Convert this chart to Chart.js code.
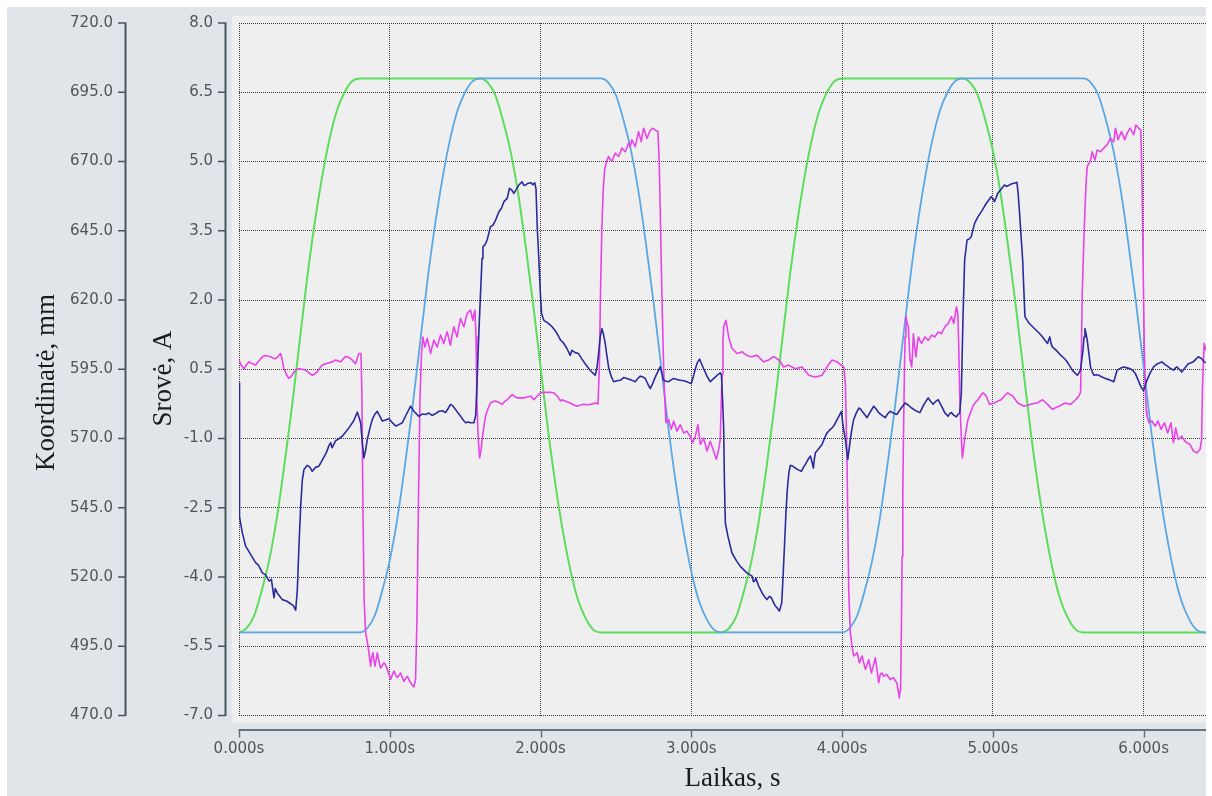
<!DOCTYPE html>
<html>
<head>
<meta charset="utf-8">
<script src="https://cdn.jsdelivr.net/npm/chart.js@4.4.1/dist/chart.umd.min.js"></script>
<style>
  html, body { margin: 0; padding: 0; background: #ffffff; overflow: hidden; }
  canvas { display: block; }
</style>
</head>
<body>
<canvas id="chart" width="1212" height="796"></canvas>
<script>
// Axis tick values
const timeTicks = [0, 1, 2, 3, 4, 5, 6];
const currentTicks = [-7, -5.5, -4, -2.5, -1, 0.5, 2, 3.5, 5, 6.5, 8];
const positionTicks = [470, 495, 520, 545, 570, 595, 620, 645, 670, 695, 720];

// Position samples (s) shared by both carriage coordinates
const posT = [
  0, 0.05, 0.1, 0.15, 0.2, 0.25, 0.3, 0.35, 0.4, 0.45, 0.5, 0.55, 0.6, 0.65, 0.7, 0.75, 0.8,
  0.85, 0.9, 0.95, 1, 1.05, 1.1, 1.15, 1.2, 1.25, 1.3, 1.35, 1.4, 1.45, 1.5, 1.55,
  1.6, 1.65, 1.7, 1.75, 1.8, 1.85, 1.9, 1.95, 2, 2.05, 2.1, 2.15, 2.2, 2.25, 2.3, 2.35, 2.4,
  2.45, 2.5, 2.55, 2.6, 2.65, 2.7, 2.75, 2.8, 2.85, 2.9, 2.95, 3, 3.05, 3.1, 3.15,
  3.2, 3.25, 3.3, 3.35, 3.4, 3.45, 3.5, 3.55, 3.6, 3.65, 3.7, 3.75, 3.8, 3.85, 3.9, 3.95, 4,
  4.05, 4.1, 4.15, 4.2, 4.25, 4.3, 4.35, 4.4, 4.45, 4.5, 4.55, 4.6, 4.65, 4.7, 4.75,
  4.8, 4.85, 4.9, 4.95, 5, 5.05, 5.1, 5.15, 5.2, 5.25, 5.3, 5.35, 5.4, 5.45, 5.5, 5.55, 5.6,
  5.65, 5.7, 5.75, 5.8, 5.85, 5.9, 5.95, 6, 6.05, 6.1, 6.15, 6.2, 6.25, 6.3, 6.35, 6.4,
  6.414
];

// Coordinate of the first axis, mm
const greenMM = [
  500, 501.5, 506, 515, 526, 541, 560, 581, 604, 627, 647, 664, 678, 688.5, 695, 699, 700,
  700, 700, 700, 700, 700, 700, 700, 700, 700, 700, 700, 700, 700, 700, 700,
  700, 698.5, 694, 685, 674, 659, 640, 619, 596, 573, 553, 536, 522, 511.5, 505, 501, 500,
  500, 500, 500, 500, 500, 500, 500, 500, 500, 500, 500, 500, 500, 500, 500,
  500, 501.5, 506, 515, 526, 541, 560, 581, 604, 627, 647, 664, 678, 688.5, 695, 699, 700,
  700, 700, 700, 700, 700, 700, 700, 700, 700, 700, 700, 700, 700, 700, 700,
  700, 698.5, 694, 685, 674, 659, 640, 619, 596, 573, 553, 536, 522, 511.5, 505, 501, 500,
  500, 500, 500, 500, 500, 500, 500, 500, 500, 500, 500, 500, 500, 500, 500, 500,
  500
];

// Coordinate of the second axis, mm
const blueMM = [
  500, 500, 500, 500, 500, 500, 500, 500, 500, 500, 500, 500, 500, 500, 500, 500,
  500, 501.5, 506, 515, 526, 541, 560, 581, 604, 627, 647, 664, 678, 688.5, 695, 699, 700,
  700, 700, 700, 700, 700, 700, 700, 700, 700, 700, 700, 700, 700, 700, 700,
  700, 698.5, 694, 685, 674, 659, 640, 619, 596, 573, 553, 536, 522, 511.5, 505, 501, 500,
  500, 500, 500, 500, 500, 500, 500, 500, 500, 500, 500, 500, 500, 500, 500,
  500, 501.5, 506, 515, 526, 541, 560, 581, 604, 627, 647, 664, 678, 688.5, 695, 699, 700,
  700, 700, 700, 700, 700, 700, 700, 700, 700, 700, 700, 700, 700, 700, 700,
  700, 698.5, 694, 685, 674, 659, 640, 619, 596, 573, 553, 536, 522, 511.5, 505, 501, 500,
  500
];

// Motor current of the first drive, [s, A]
const navyCurrent = [
  [0,0.2],[0.002,-1.5],[0.005,-2.7],[0.022,-3.04],[0.044,-3.33],[0.075,-3.5],[0.11,-3.69],[0.13,-3.75],
  [0.155,-3.91],[0.175,-3.95],[0.2,-4.09],[0.215,-4.05],[0.232,-4.45],[0.24,-4.25],[0.255,-4.35],[0.287,-4.49],
  [0.315,-4.52],[0.343,-4.58],[0.36,-4.62],[0.376,-4.72],[0.387,-4.27],[0.398,-3.3],[0.409,-2.47],[0.42,-1.9],
  [0.431,-1.67],[0.453,-1.58],[0.47,-1.62],[0.486,-1.71],[0.51,-1.62],[0.53,-1.6],[0.555,-1.45],[0.58,-1.3],
  [0.596,-1.16],[0.608,-1.09],[0.618,-1.2],[0.64,-1.05],[0.665,-1.0],[0.685,-0.95],[0.71,-0.85],[0.729,-0.77],
  [0.76,-0.62],[0.785,-0.43],[0.797,-0.55],[0.807,-0.66],[0.818,-1.1],[0.829,-1.42],[0.84,-1.25],[0.851,-1.02],
  [0.868,-0.78],[0.884,-0.59],[0.9,-0.48],[0.917,-0.41],[0.935,-0.52],[0.95,-0.62],[0.972,-0.6],[0.994,-0.57],
  [1.015,-0.65],[1.039,-0.73],[1.06,-0.7],[1.083,-0.66],[1.11,-0.48],[1.138,-0.3],[1.16,-0.41],[1.193,-0.52],
  [1.215,-0.47],[1.238,-0.48],[1.26,-0.45],[1.28,-0.5],[1.305,-0.46],[1.326,-0.41],[1.35,-0.4],[1.37,-0.44],
  [1.387,-0.35],[1.403,-0.26],[1.42,-0.3],[1.436,-0.37],[1.453,-0.45],[1.47,-0.52],[1.487,-0.6],[1.503,-0.66],
  [1.52,-0.64],[1.536,-0.66],[1.558,-0.66],[1.57,-0.5],[1.58,0.3],[1.591,1.3],[1.602,2.14],[1.612,2.9],
  [1.618,3.15],[1.632,3.2],[1.646,3.3],[1.668,3.59],[1.685,3.62],[1.702,3.73],[1.724,3.91],[1.74,3.98],
  [1.757,4.13],[1.779,4.2],[1.794,4.42],[1.81,4.38],[1.823,4.31],[1.84,4.4],[1.856,4.49],[1.878,4.56],
  [1.89,4.48],[1.9,4.49],[1.918,4.53],[1.934,4.54],[1.95,4.5],[1.962,4.54],[1.97,4.4],[1.978,3.59],
  [1.989,2.86],[1.998,2.2],[2.007,1.71],[2.022,1.56],[2.05,1.5],[2.077,1.42],[2.105,1.3],[2.133,1.13],
  [2.15,1.08],[2.175,0.95],[2.197,0.8],[2.208,0.91],[2.23,0.86],[2.252,0.84],[2.275,0.72],[2.296,0.62],
  [2.312,0.55],[2.329,0.48],[2.346,0.42],[2.363,0.37],[2.375,0.55],[2.385,0.84],[2.396,1.2],[2.407,1.38],
  [2.418,1.25],[2.429,1.06],[2.44,0.8],[2.451,0.55],[2.468,0.35],[2.485,0.23],[2.507,0.25],[2.529,0.26],
  [2.551,0.32],[2.573,0.3],[2.6,0.27],[2.628,0.23],[2.645,0.3],[2.662,0.35],[2.68,0.33],[2.695,0.3],
  [2.712,0.18],[2.728,0.08],[2.745,0.2],[2.761,0.33],[2.778,0.45],[2.794,0.55],[2.805,0.42],[2.816,0.26],
  [2.833,0.24],[2.85,0.23],[2.866,0.27],[2.883,0.3],[2.905,0.28],[2.927,0.26],[2.95,0.25],[2.971,0.23],
  [2.985,0.21],[3.0,0.19],[3.014,0.35],[3.027,0.51],[3.041,0.65],[3.055,0.72],[3.068,0.62],[3.082,0.51],
  [3.104,0.35],[3.126,0.23],[3.142,0.28],[3.159,0.33],[3.175,0.38],[3.192,0.42],[3.2,0.37],[3.208,-0.2],
  [3.215,-0.8],[3.22,-2.0],[3.226,-2.83],[3.243,-3.12],[3.27,-3.48],[3.3,-3.65],[3.325,-3.77],[3.35,-3.85],
  [3.369,-3.91],[3.403,-3.98],[3.412,-4.1],[3.42,-4.09],[3.428,-4.02],[3.445,-4.18],[3.469,-4.34],[3.485,-4.42],
  [3.502,-4.49],[3.518,-4.42],[3.531,-4.45],[3.545,-4.55],[3.558,-4.63],[3.572,-4.68],[3.584,-4.74],[3.592,-4.65],
  [3.6,-4.56],[3.61,-3.9],[3.62,-3.19],[3.628,-2.6],[3.637,-2.1],[3.647,-1.75],[3.657,-1.58],[3.673,-1.6],
  [3.69,-1.64],[3.71,-1.68],[3.73,-1.71],[3.745,-1.62],[3.757,-1.56],[3.775,-1.45],[3.79,-1.38],[3.8,-1.5],
  [3.81,-1.64],[3.816,-1.45],[3.823,-1.31],[3.845,-1.22],[3.867,-1.13],[3.883,-1.0],[3.9,-0.88],[3.917,-0.82],
  [3.934,-0.77],[3.95,-0.7],[3.967,-0.59],[3.982,-0.5],[3.996,-0.41],[4.004,-0.66],[4.013,-0.85],[4.022,-1.02],
  [4.03,-1.25],[4.038,-1.45],[4.046,-1.25],[4.055,-1.02],[4.066,-0.78],[4.077,-0.59],[4.094,-0.45],[4.111,-0.34],
  [4.122,-0.36],[4.133,-0.41],[4.15,-0.48],[4.166,-0.55],[4.188,-0.42],[4.21,-0.3],[4.226,-0.36],[4.243,-0.44],
  [4.265,-0.5],[4.286,-0.55],[4.302,-0.47],[4.319,-0.41],[4.341,-0.45],[4.363,-0.48],[4.39,-0.35],[4.418,-0.23],
  [4.44,-0.28],[4.462,-0.34],[4.49,-0.4],[4.516,-0.44],[4.545,-0.25],[4.571,-0.12],[4.588,-0.2],[4.604,-0.26],
  [4.62,-0.2],[4.637,-0.16],[4.66,-0.3],[4.681,-0.44],[4.703,-0.52],[4.714,-0.46],[4.725,-0.44],[4.742,-0.5],
  [4.758,-0.53],[4.769,-0.48],[4.78,-0.45],[4.791,-0.03],[4.802,1.6],[4.813,2.86],[4.829,3.3],[4.843,3.32],
  [4.857,3.37],[4.868,3.52],[4.879,3.66],[4.901,3.8],[4.923,3.91],[4.94,4.0],[4.956,4.09],[4.972,4.16],
  [4.989,4.24],[5.0,4.2],[5.011,4.13],[5.022,4.22],[5.033,4.31],[5.055,4.4],[5.077,4.49],[5.094,4.46],
  [5.11,4.49],[5.127,4.52],[5.143,4.53],[5.16,4.55],[5.168,4.3],[5.176,3.95],[5.187,3.4],[5.198,2.86],
  [5.206,2.2],[5.213,1.64],[5.228,1.56],[5.242,1.49],[5.264,1.42],[5.286,1.35],[5.308,1.28],[5.33,1.2],
  [5.346,1.13],[5.363,1.06],[5.37,1.13],[5.378,1.2],[5.387,1.05],[5.396,0.98],[5.418,0.92],[5.44,0.84],
  [5.462,0.77],[5.484,0.7],[5.505,0.6],[5.527,0.48],[5.545,0.42],[5.56,0.37],[5.571,0.42],[5.582,0.48],
  [5.59,0.7],[5.598,0.91],[5.605,1.2],[5.611,1.38],[5.618,1.28],[5.626,1.13],[5.637,0.85],[5.648,0.55],
  [5.659,0.45],[5.67,0.37],[5.686,0.38],[5.703,0.37],[5.725,0.33],[5.747,0.3],[5.775,0.27],[5.802,0.23],
  [5.813,0.35],[5.824,0.48],[5.846,0.52],[5.868,0.55],[5.89,0.53],[5.912,0.51],[5.93,0.47],[5.945,0.41],
  [5.962,0.28],[5.978,0.15],[5.99,0.08],[6.0,0.04],[6.011,0.15],[6.022,0.26],[6.044,0.42],[6.066,0.55],
  [6.093,0.62],[6.121,0.66],[6.143,0.6],[6.165,0.55],[6.182,0.51],[6.198,0.48],[6.209,0.52],[6.22,0.55],
  [6.237,0.5],[6.253,0.44],[6.275,0.53],[6.297,0.62],[6.315,0.64],[6.33,0.66],[6.347,0.72],[6.363,0.77],
  [6.374,0.75],[6.385,0.73],[6.402,0.66],[6.414,0.64]
];

// Motor current of the second drive, [s, A]
const magentaCurrent = [
  [0,0.7],[0.016,0.58],[0.033,0.51],[0.05,0.6],[0.066,0.66],[0.088,0.62],[0.11,0.59],[0.127,0.66],
  [0.144,0.73],[0.16,0.78],[0.177,0.8],[0.193,0.78],[0.21,0.77],[0.227,0.74],[0.243,0.73],[0.26,0.78],
  [0.276,0.84],[0.287,0.7],[0.298,0.51],[0.315,0.38],[0.331,0.3],[0.348,0.35],[0.365,0.44],[0.381,0.5],
  [0.398,0.51],[0.42,0.5],[0.442,0.48],[0.464,0.42],[0.486,0.37],[0.503,0.4],[0.519,0.44],[0.535,0.52],
  [0.552,0.59],[0.575,0.62],[0.597,0.64],[0.62,0.66],[0.641,0.7],[0.658,0.68],[0.674,0.66],[0.69,0.72],
  [0.707,0.78],[0.724,0.76],[0.74,0.73],[0.757,0.68],[0.773,0.62],[0.785,0.75],[0.796,0.84],[0.809,0.84],
  [0.815,0.0],[0.822,-2.5],[0.83,-4.5],[0.84,-5.21],[0.851,-5.4],[0.862,-5.64],[0.868,-5.8],[0.873,-5.93],
  [0.88,-5.75],[0.888,-5.64],[0.895,-5.8],[0.902,-5.93],[0.91,-5.78],[0.917,-5.64],[0.928,-5.82],[0.939,-5.97],
  [0.95,-5.92],[0.961,-5.86],[0.972,-5.9],[0.989,-6.05],[1.006,-6.22],[1.017,-6.12],[1.028,-6.04],[1.039,-6.12],
  [1.05,-6.18],[1.061,-6.13],[1.072,-6.08],[1.083,-6.17],[1.094,-6.26],[1.105,-6.2],[1.116,-6.15],[1.127,-6.22],
  [1.138,-6.29],[1.149,-6.34],[1.16,-6.38],[1.171,-6.22],[1.18,-5.0],[1.19,-2.5],[1.2,-0.2],[1.21,0.8],
  [1.22,1.2],[1.233,0.98],[1.249,1.17],[1.26,1.0],[1.271,0.84],[1.282,1.0],[1.293,1.13],[1.304,1.05],
  [1.315,0.98],[1.326,1.12],[1.337,1.24],[1.348,1.15],[1.359,1.06],[1.37,1.2],[1.381,1.31],[1.392,1.16],
  [1.403,1.02],[1.414,1.25],[1.425,1.42],[1.436,1.3],[1.447,1.2],[1.458,1.42],[1.47,1.6],[1.481,1.5],
  [1.492,1.42],[1.503,1.58],[1.514,1.71],[1.525,1.75],[1.536,1.78],[1.544,1.66],[1.551,1.56],[1.558,1.68],
  [1.565,1.78],[1.572,1.2],[1.578,-0.2],[1.587,-1.02],[1.596,-1.42],[1.605,-1.25],[1.613,-1.02],[1.624,-0.75],
  [1.635,-0.52],[1.652,-0.35],[1.669,-0.23],[1.685,-0.2],[1.702,-0.19],[1.724,-0.22],[1.746,-0.26],[1.762,-0.2],
  [1.779,-0.16],[1.795,-0.1],[1.812,-0.05],[1.828,-0.09],[1.845,-0.12],[1.868,-0.12],[1.89,-0.12],[1.912,-0.1],
  [1.934,-0.08],[1.945,-0.12],[1.956,-0.16],[1.978,-0.08],[2.0,-0.01],[2.022,0.0],[2.044,0.0],[2.066,0.0],
  [2.088,-0.01],[2.11,-0.08],[2.133,-0.19],[2.142,-0.16],[2.17,-0.2],[2.197,-0.23],[2.219,-0.27],[2.241,-0.3],
  [2.263,-0.28],[2.285,-0.26],[2.307,-0.27],[2.33,-0.26],[2.346,-0.25],[2.363,-0.23],[2.381,-0.25],[2.39,0.5],
  [2.398,2.2],[2.407,3.59],[2.416,4.4],[2.425,4.82],[2.438,5.0],[2.451,5.11],[2.462,5.05],[2.473,5.0],
  [2.485,5.1],[2.496,5.18],[2.507,5.14],[2.518,5.11],[2.529,5.2],[2.54,5.29],[2.551,5.25],[2.562,5.21],
  [2.573,5.3],[2.584,5.4],[2.595,5.32],[2.606,5.47],[2.617,5.4],[2.628,5.32],[2.639,5.48],[2.65,5.65],
  [2.659,5.54],[2.668,5.43],[2.676,5.58],[2.684,5.72],[2.695,5.61],[2.706,5.5],[2.717,5.59],[2.728,5.68],
  [2.737,5.7],[2.746,5.72],[2.761,5.68],[2.779,5.65],[2.787,5.0],[2.794,3.95],[2.802,2.6],[2.81,1.42],
  [2.817,0.5],[2.823,-0.03],[2.828,-0.4],[2.832,-0.66],[2.841,-0.62],[2.85,-0.59],[2.858,-0.7],[2.867,-0.8],
  [2.875,-0.71],[2.883,-0.62],[2.894,-0.73],[2.905,-0.84],[2.916,-0.77],[2.927,-0.7],[2.938,-0.79],[2.949,-0.88],
  [2.96,-0.86],[2.971,-0.84],[2.982,-0.9],[2.993,-0.95],[3.001,-1.02],[3.009,-1.09],[3.018,-1.02],[3.027,-0.95],
  [3.036,-0.82],[3.044,-0.7],[3.052,-0.92],[3.06,-1.13],[3.071,-1.06],[3.082,-0.99],[3.093,-1.13],[3.104,-1.27],
  [3.115,-1.16],[3.126,-1.06],[3.137,-1.17],[3.148,-1.27],[3.157,-1.36],[3.166,-1.45],[3.174,-1.35],[3.181,-1.24],
  [3.187,-1.13],[3.192,-1.02],[3.198,-0.3],[3.204,0.4],[3.21,1.1],[3.215,1.42],[3.223,1.5],[3.23,1.56],
  [3.239,1.38],[3.248,1.2],[3.259,1.07],[3.27,0.95],[3.286,0.9],[3.303,0.84],[3.32,0.86],[3.336,0.88],
  [3.352,0.84],[3.369,0.8],[3.386,0.78],[3.403,0.77],[3.42,0.79],[3.436,0.8],[3.458,0.73],[3.48,0.66],
  [3.497,0.68],[3.513,0.7],[3.53,0.74],[3.546,0.77],[3.563,0.74],[3.58,0.7],[3.597,0.63],[3.613,0.55],
  [3.63,0.57],[3.646,0.59],[3.668,0.55],[3.69,0.51],[3.712,0.53],[3.735,0.55],[3.757,0.46],[3.779,0.37],
  [3.801,0.35],[3.823,0.33],[3.845,0.35],[3.867,0.37],[3.884,0.46],[3.9,0.55],[3.917,0.63],[3.934,0.7],
  [3.95,0.68],[3.967,0.66],[3.982,0.62],[3.996,0.59],[4.011,0.55],[4.022,0.2],[4.033,-1.5],[4.044,-4.27],
  [4.055,-5.21],[4.066,-5.5],[4.077,-5.71],[4.088,-5.68],[4.1,-5.64],[4.108,-5.75],[4.115,-5.86],[4.124,-5.78],
  [4.133,-5.71],[4.144,-5.86],[4.155,-6.0],[4.166,-5.9],[4.177,-5.79],[4.186,-5.94],[4.195,-6.08],[4.208,-5.92],
  [4.221,-5.75],[4.232,-6.02],[4.243,-6.29],[4.254,-6.1],[4.265,-6.08],[4.275,-6.15],[4.286,-6.13],[4.297,-6.11],
  [4.308,-6.17],[4.319,-6.22],[4.33,-6.2],[4.341,-6.18],[4.352,-6.24],[4.363,-6.29],[4.372,-6.45],[4.38,-6.62],
  [4.385,-6.45],[4.389,-6.29],[4.394,-5.0],[4.398,-3.55],[4.403,-2.2],[4.407,-1.02],[4.413,0.3],[4.418,1.2],
  [4.424,1.64],[4.432,1.5],[4.44,1.42],[4.446,1.0],[4.451,0.7],[4.457,0.62],[4.462,0.55],[4.468,0.9],
  [4.473,1.27],[4.481,1.0],[4.49,0.77],[4.498,1.0],[4.506,1.2],[4.517,1.12],[4.528,1.06],[4.539,1.13],
  [4.55,1.2],[4.561,1.16],[4.572,1.13],[4.583,1.18],[4.594,1.24],[4.605,1.22],[4.616,1.2],[4.627,1.26],
  [4.638,1.31],[4.649,1.29],[4.66,1.27],[4.671,1.35],[4.682,1.42],[4.693,1.46],[4.704,1.49],[4.715,1.57],
  [4.726,1.64],[4.734,1.56],[4.741,1.49],[4.75,1.67],[4.759,1.85],[4.768,1.7],[4.774,1.0],[4.78,0.0],
  [4.787,-0.66],[4.793,-1.1],[4.798,-1.42],[4.805,-1.25],[4.813,-1.02],[4.824,-0.8],[4.835,-0.59],[4.851,-0.45],
  [4.868,-0.3],[4.884,-0.22],[4.901,-0.16],[4.918,-0.08],[4.934,-0.01],[4.945,-0.04],[4.956,-0.08],[4.967,-0.17],
  [4.978,-0.26],[4.995,-0.24],[5.011,-0.23],[5.033,-0.19],[5.055,-0.16],[5.077,-0.08],[5.099,-0.01],[5.115,-0.05],
  [5.132,-0.08],[5.148,-0.15],[5.165,-0.23],[5.187,-0.27],[5.209,-0.3],[5.231,-0.28],[5.253,-0.26],[5.275,-0.24],
  [5.297,-0.23],[5.313,-0.19],[5.33,-0.16],[5.346,-0.21],[5.363,-0.26],[5.38,-0.32],[5.396,-0.37],[5.418,-0.33],
  [5.44,-0.3],[5.462,-0.26],[5.484,-0.23],[5.5,-0.25],[5.516,-0.26],[5.533,-0.21],[5.549,-0.16],[5.56,-0.12],
  [5.571,-0.08],[5.582,0.0],[5.588,1.0],[5.593,2.14],[5.602,3.1],[5.611,3.95],[5.618,4.5],[5.626,4.89],
  [5.637,4.96],[5.648,5.03],[5.659,5.21],[5.668,5.12],[5.677,5.03],[5.685,5.14],[5.692,5.25],[5.703,5.23],
  [5.714,5.21],[5.725,5.25],[5.736,5.29],[5.747,5.33],[5.758,5.36],[5.769,5.43],[5.78,5.5],[5.791,5.46],
  [5.802,5.43],[5.808,5.58],[5.813,5.72],[5.822,5.6],[5.831,5.47],[5.842,5.56],[5.853,5.65],[5.864,5.56],
  [5.875,5.47],[5.883,5.54],[5.89,5.61],[5.901,5.67],[5.912,5.72],[5.923,5.65],[5.934,5.58],[5.942,5.69],
  [5.949,5.79],[5.958,5.76],[5.967,5.72],[5.975,5.7],[5.982,5.68],[5.99,4.5],[5.998,2.5],[6.005,1.0],
  [6.012,0.0],[6.018,-0.4],[6.022,-0.52],[6.03,-0.59],[6.037,-0.66],[6.046,-0.64],[6.055,-0.62],[6.066,-0.68],
  [6.077,-0.73],[6.086,-0.68],[6.095,-0.62],[6.106,-0.71],[6.116,-0.8],[6.127,-0.73],[6.138,-0.66],[6.149,-0.77],
  [6.16,-0.88],[6.171,-0.77],[6.182,-0.66],[6.19,-0.88],[6.198,-1.09],[6.206,-0.93],[6.213,-0.77],[6.222,-0.9],
  [6.231,-1.02],[6.242,-0.99],[6.253,-0.95],[6.264,-1.01],[6.275,-1.06],[6.292,-1.1],[6.308,-1.13],[6.319,-1.2],
  [6.33,-1.27],[6.341,-1.29],[6.352,-1.31],[6.363,-1.28],[6.374,-1.24],[6.385,-1.02],[6.39,0.0],[6.396,0.6],
  [6.402,1.06],[6.414,0.9]
];

const tickFont = { family: "'DejaVu Sans', Verdana, sans-serif", size: 15 };
const tickColor = '#515559';
const gridColor = 'rgba(30, 30, 30, 0.85)';
const titleFont = "27px 'Liberation Serif', 'Times New Roman', serif";
const axisColor = '#47565b';

const fixedTicks = values => scale => { scale.ticks = values.map(v => ({ value: v })); };
// fixed box sizes; label overhang is not added to the plot margins
const fitWidth = w => s => { s.width = w; s.paddingTop = 0; s.paddingBottom = 0; };
const fitHeight = h => s => { s.height = h; s.paddingLeft = 0; s.paddingRight = 0; };

// Background, plot panel, axis lines with tick marks and axis titles
const frame = {
  id: 'frame',
  beforeDraw(chart) {
    const { ctx, chartArea: a, width, height } = chart;
    ctx.save();
    ctx.fillStyle = '#ffffff';
    ctx.fillRect(0, 0, width, height);
    ctx.fillStyle = '#e1e5e9';
    ctx.fillRect(7, 7, a.right - 7, height - 7);
    ctx.fillStyle = '#efefef';
    ctx.fillRect(a.left - 7, a.top - 7, a.right - a.left + 7, a.bottom - a.top + 14);
    ctx.restore();
  },
  afterDraw(chart) {
    const { ctx, chartArea: a, scales } = chart;
    ctx.save();
    ctx.strokeStyle = axisColor;
    ctx.lineCap = 'butt';

    const yAxis = (scale, x, values) => {
      ctx.lineWidth = 2;
      ctx.beginPath();
      ctx.moveTo(x, scale.getPixelForValue(values[values.length - 1]) - 0.5);
      ctx.lineTo(x, scale.getPixelForValue(values[0]) + 0.5);
      ctx.stroke();
      ctx.lineWidth = 1.5;
      ctx.beginPath();
      values.forEach(v => {
        const y = scale.getPixelForValue(v);
        ctx.moveTo(x - 7.5, y);
        ctx.lineTo(x, y);
      });
      ctx.stroke();
    };
    yAxis(scales.yPos, 125.5, positionTicks);
    yAxis(scales.yCur, 225.5, currentTicks);

    // time axis
    const xs = scales.x;
    ctx.strokeStyle = '#66757b';
    ctx.lineWidth = 2;
    ctx.beginPath();
    ctx.moveTo(xs.getPixelForValue(timeTicks[0]) - 0.5, 730);
    ctx.lineTo(a.right, 730);
    ctx.stroke();
    ctx.lineWidth = 1.5;
    ctx.beginPath();
    timeTicks.forEach(v => {
      const x = Math.round(xs.getPixelForValue(v)) + 0.5;
      ctx.moveTo(x, 730);
      ctx.lineTo(x, 737.5);
    });
    ctx.stroke();

    // axis titles
    ctx.fillStyle = '#1c1c1c';
    ctx.font = titleFont;
    ctx.textBaseline = 'alphabetic';
    ctx.textAlign = 'center';
    ctx.fillText('Laikas, s', 732.5, 786);
    const vertical = (text, x, y) => {
      ctx.save();
      ctx.translate(x, y);
      ctx.rotate(-Math.PI / 2);
      ctx.fillText(text, 0, 0);
      ctx.restore();
    };
    vertical('Koordinatė, mm', 53.5, 382.5);
    vertical('Srovė, A', 171, 378.5);
    ctx.restore();
  }
};

const toPoints = (xs, ys) => xs.map((x, i) => ({ x, y: ys[i] }));
const pairPoints = rows => rows.map(([x, y]) => ({ x, y }));

new Chart(document.getElementById('chart'), {
  type: 'line',
  data: {
    datasets: [
      {
        data: pairPoints(navyCurrent), yAxisID: 'yCur',
        borderColor: '#2b2b9e', borderWidth: 1.6, tension: 0, borderJoinStyle: 'round'
      },
      {
        data: pairPoints(magentaCurrent), yAxisID: 'yCur',
        borderColor: '#e843e8', borderWidth: 1.6, tension: 0, borderJoinStyle: 'round'
      },
      {
        data: toPoints(posT, blueMM), yAxisID: 'yPos',
        borderColor: '#5aa7e4', borderWidth: 1.8, cubicInterpolationMode: 'monotone'
      },
      {
        data: toPoints(posT, greenMM), yAxisID: 'yPos',
        borderColor: '#5ddc5d', borderWidth: 2, cubicInterpolationMode: 'monotone'
      }
    ]
  },
  options: {
    responsive: false,
    devicePixelRatio: 1,
    animation: false,
    elements: { point: { radius: 0, hoverRadius: 0 } },
    layout: { padding: { left: 0, right: 6, top: 23, bottom: 0 } },
    plugins: { legend: { display: false }, tooltip: { enabled: false } },
    events: [],
    scales: {
      x: {
        type: 'linear', position: 'bottom', min: 0, max: 6.414,
        afterBuildTicks: fixedTicks(timeTicks),
        afterFit: fitHeight(80.5),
        ticks: {
          font: tickFont, color: tickColor, padding: 24.5, maxRotation: 0, autoSkip: false,
          callback: v => v.toFixed(3) + 's'
        },
        grid: { color: gridColor, lineWidth: 1, drawTicks: false },
        border: { display: false, dash: [1, 1] }
      },
      yPos: {
        type: 'linear', position: 'left', weight: 2, min: 470, max: 720,
        afterBuildTicks: fixedTicks(positionTicks),
        afterFit: fitWidth(130),
        ticks: { font: tickFont, color: tickColor, padding: 17, callback: v => v.toFixed(1) },
        grid: { drawOnChartArea: false, drawTicks: false },
        border: { display: false }
      },
      yCur: {
        type: 'linear', position: 'left', weight: 1, min: -7, max: 8,
        afterBuildTicks: fixedTicks(currentTicks),
        afterFit: fitWidth(109),
        ticks: { font: tickFont, color: tickColor, padding: 26, callback: v => v.toFixed(1) },
        grid: { color: gridColor, lineWidth: 1, drawTicks: false },
        border: { display: false, dash: [1, 1] }
      }
    }
  },
  plugins: [frame]
});
</script>
</body>
</html>
